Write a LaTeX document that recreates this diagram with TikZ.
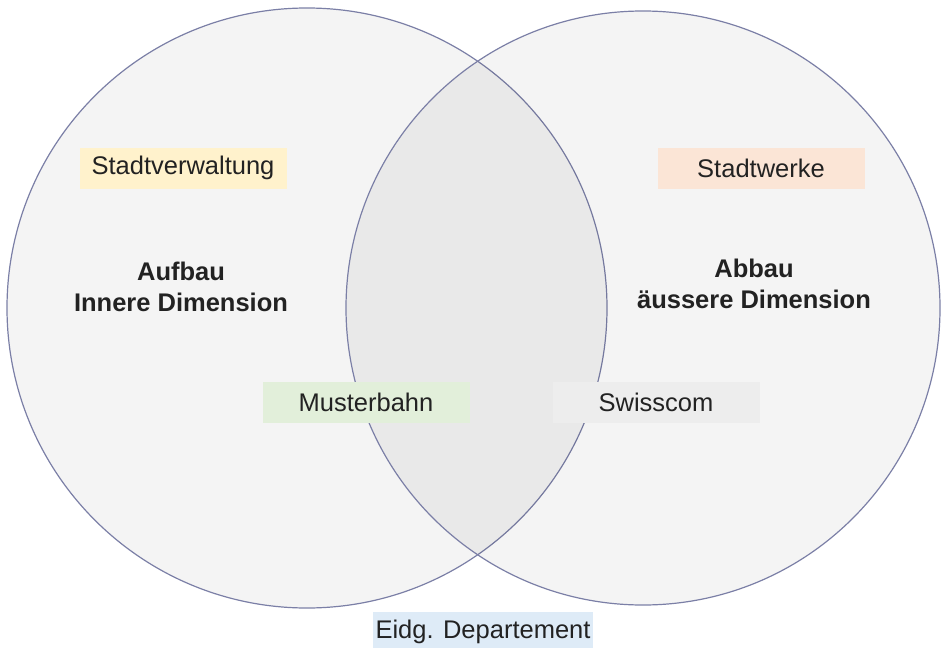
\documentclass[tikz,border=0pt]{standalone}
\usepackage{fontspec}
\setmainfont{Liberation Sans}

\definecolor{randblau}{HTML}{7B7FA6}
\definecolor{textgrau}{HTML}{222222}
\definecolor{gelbfill}{HTML}{FFF2CC}
\definecolor{rosafill}{HTML}{FBE5D6}
\definecolor{gruenfill}{HTML}{E2EFDA}
\definecolor{graufill}{HTML}{EDEDED}
\definecolor{blaufill}{HTML}{DEEBF7}

\begin{document}
\begin{tikzpicture}[x=0.5pt, y=-0.5pt,
    kreis/.style={draw=randblau, line width=0.6pt, fill=black, fill opacity=0.045},
    kasten/.style={inner sep=0pt, minimum width=103.5pt, minimum height=20.5pt,
        text=textgrau, font=\fontsize{12.75}{15.5}\selectfont},
    titel/.style={align=center, text=textgrau, font=\fontsize{12.75}{15.5}\selectfont\bfseries}]

      % Bildrahmen (941 x 647)
      \useasboundingbox (0,0) rectangle (941,647);
      \clip (0,0) rectangle (941,647);

      % Mittelpunkte und Radien der beiden Kreise
      \def\xl{307} \def\xr{643} \def\ym{308}

      % Die beiden Kreise
      \draw[kreis] (\xl,\ym) circle (300);
      \draw[kreis] (\xr,\ym) circle (297);

      % Ueberschriften in den Kreisen
      \node[titel] (aufbau) at (181,287) {Aufbau\\Innere Dimension};
      \node[titel] (abbau) at (754,284) {Abbau\\äussere Dimension};

      % Akteure
      \node[kasten, fill=gelbfill] (verwaltung) at (183,168) {Stadtverwaltung};
      \node[kasten, fill=rosafill] (werke) at (761,168) {Stadtwerke};
      \node[kasten, fill=gruenfill] (bahn) at (366,402) {Musterbahn};
      \node[kasten, fill=graufill] (swisscom) at (656,402) {Swisscom};
      \node[kasten, fill=blaufill, minimum width=110pt] (departement) at (483,632) {Eidg. Departement};
    \end{tikzpicture}
\end{document}
